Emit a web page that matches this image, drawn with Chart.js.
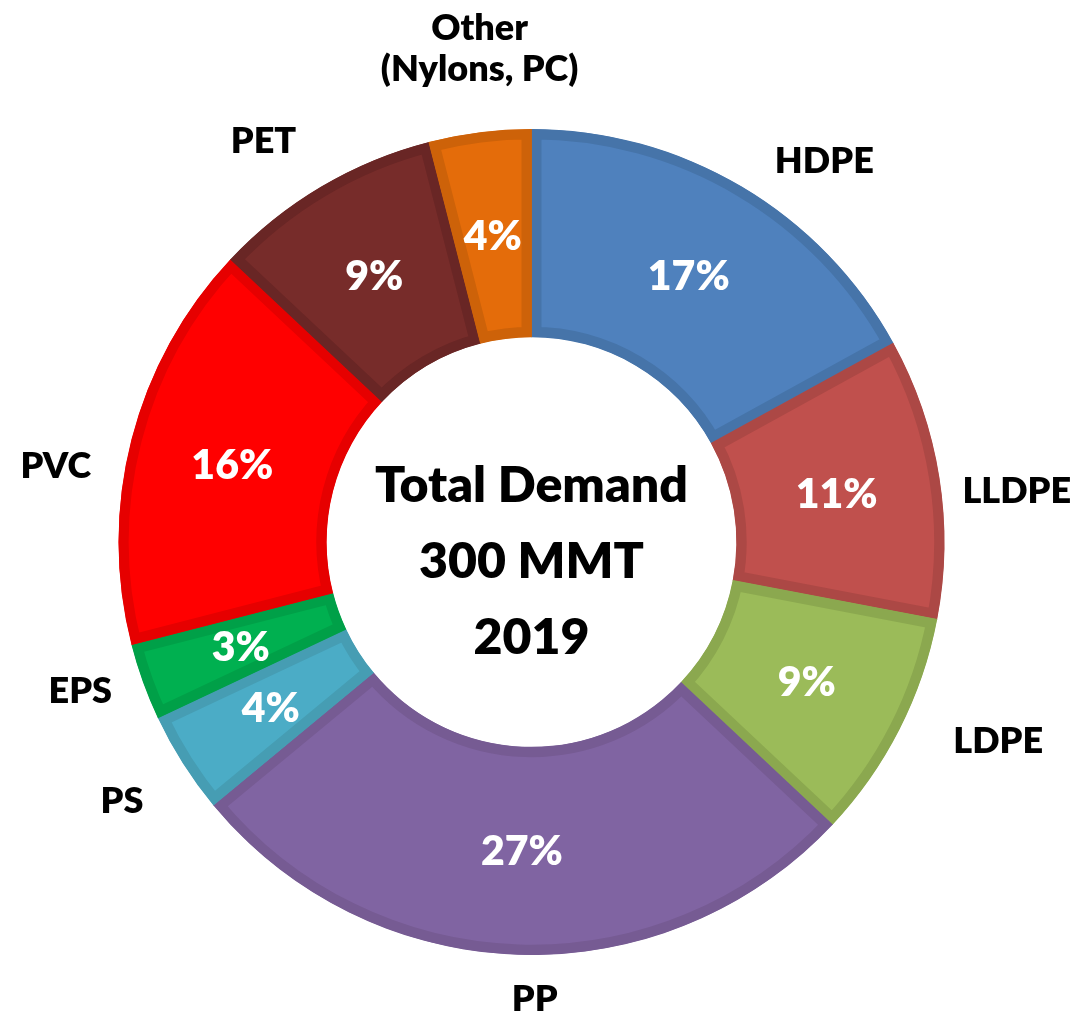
<!DOCTYPE html>
<html>
<head>
<meta charset="utf-8">
<script src="https://cdn.jsdelivr.net/npm/chart.js@4/dist/chart.umd.min.js"></script>
<style>
  html, body { margin: 0; padding: 0; background: #ffffff; }
  #wrap { width: 1074px; height: 1020px; position: relative; }
</style>
</head>
<body>
<div id="wrap"><canvas id="c"></canvas></div>
<script>
// ---- data ----
const categories = ['HDPE', 'LLDPE', 'LDPE', 'PP', 'PS', 'EPS', 'PVC', 'PET', ['Other', '(Nylons, PC)']];
const shares = [17, 11, 9, 27, 4, 3, 16, 9, 4];
const centerLines = ['Total Demand', '300 MMT', '2019'];

// ---- styles ----
const fillColors = ['#4F81BD', '#C0504D', '#9BBB59', '#8064A2', '#4BACC6', '#00B050', '#FF0000', '#772C2A', '#E46C0A'];
const edgeColors = ['#4674A9', '#AC4845', '#8BA84F', '#765B93', '#469DB3', '#00A048', '#E60000', '#692625', '#CD6209'];
// label placement tweaks: angular shift (deg, clockwise) and distance beyond outer edge (px)
const labelShiftDeg = [6.9, 2.9, -4, -2.2, 0.2, 1.6, -5.2, -3.1, 1.2];
const labelGap = [68, 75, 94, 43, 71, 62, 69, 70, 84];

const FONT = 'Lato, "Open Sans", "DejaVu Sans", sans-serif';
const W = 800;

const labelPlugin = {
  id: 'labels',
  afterDatasetsDraw(chart) {
    const ctx = chart.ctx;
    const meta = chart.getDatasetMeta(0);
    const total = shares.reduce((a, b) => a + b, 0);
    ctx.save();
    ctx.textAlign = 'center';
    ctx.textBaseline = 'middle';
    meta.data.forEach((arc, i) => {
      const p = arc.getProps(['x', 'y', 'startAngle', 'endAngle', 'innerRadius', 'outerRadius'], true);
      const mid = (p.startAngle + p.endAngle) / 2;
      // percentage inside
      const rMid = (p.innerRadius + p.outerRadius) / 2;
      ctx.fillStyle = '#ffffff';
      ctx.font = W + ' 41px ' + FONT;
      const pct = Math.round(shares[i] / total * 100) + '%';
      ctx.fillText(pct, p.x + Math.cos(mid) * rMid, p.y + Math.sin(mid) * rMid + 1);
      // category outside
      const a = mid + labelShiftDeg[i] * Math.PI / 180;
      const r = p.outerRadius + labelGap[i];
      const lx = p.x + Math.cos(a) * r;
      const ly = p.y + Math.sin(a) * r;
      ctx.fillStyle = '#000000';
      ctx.font = W + ' 36px ' + FONT;
      const lines = Array.isArray(categories[i]) ? categories[i] : [categories[i]];
      const lh = 41;
      lines.forEach((t, k) => {
        ctx.fillText(t, lx, ly + (k - (lines.length - 1) / 2) * lh + 1);
      });
    });
    // center text
    const c0 = meta.data[0].getProps(['x', 'y'], true);
    ctx.fillStyle = '#000000';
    ctx.font = W + ' 50px ' + FONT;
    const clh = 76;
    centerLines.forEach((t, k) => {
      ctx.fillText(t, c0.x, c0.y + (k - (centerLines.length - 1) / 2) * clh + 20);
    });
    ctx.restore();
  }
};

new Chart(document.getElementById('c'), {
  type: 'doughnut',
  data: {
    labels: categories,
    datasets: [{
      data: shares,
      backgroundColor: fillColors,
      borderColor: edgeColors,
      borderWidth: 10,
      borderAlign: 'inner',
      borderJoinStyle: 'miter',
      hoverOffset: 0
    }]
  },
  options: {
    responsive: true,
    maintainAspectRatio: false,
    animation: false,
    events: [],
    cutout: '49.6%',
    layout: { padding: { left: 118, right: 129, top: 129, bottom: 65 } },
    plugins: {
      legend: { display: false },
      tooltip: { enabled: false }
    }
  },
  plugins: [labelPlugin]
});
</script>
</body>
</html>
